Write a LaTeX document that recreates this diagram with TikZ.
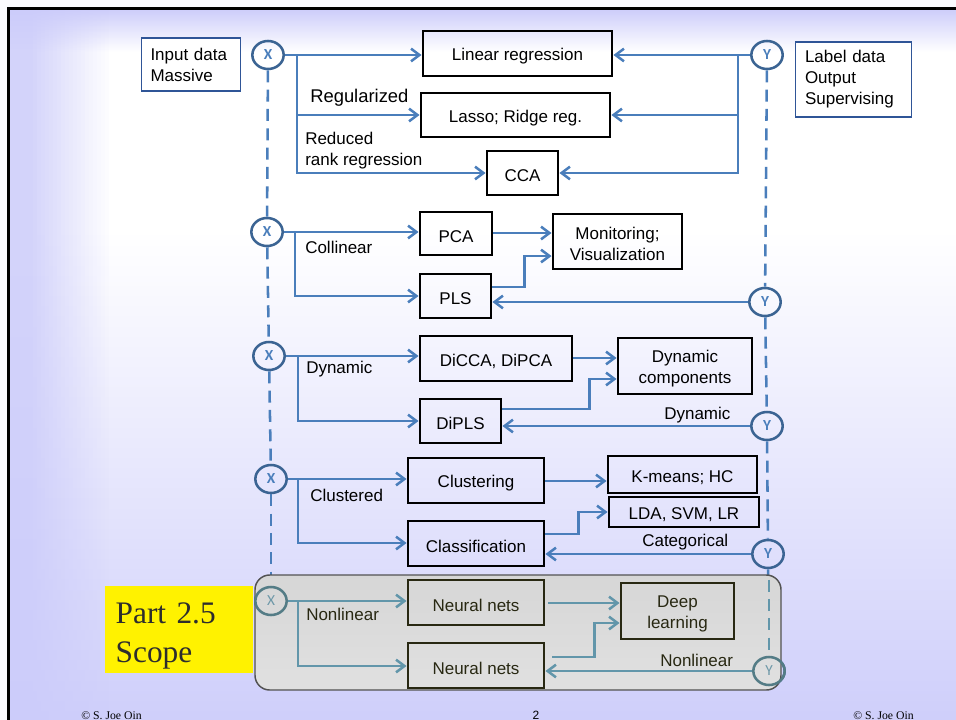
\documentclass[tikz,border=0pt]{standalone}
\usepackage{fontspec}
\setmainfont{Liberation Sans}
\newfontfamily\serifface{Liberation Serif}
\newfontfamily\markface{Carlito}
\usetikzlibrary{arrows.meta,shapes.geometric}

\definecolor{lav}{RGB}{204,204,250}
\definecolor{flowblue}{RGB}{74,126,187}
\definecolor{ringblue}{RGB}{59,100,147}
\definecolor{edgeblue}{RGB}{47,85,151}
\definecolor{nlteal}{RGB}{98,150,170}
\definecolor{nlring}{RGB}{84,124,134}
\definecolor{nlletter}{RGB}{110,152,168}
\definecolor{nlink}{RGB}{40,40,18}
\definecolor{darktext}{RGB}{45,45,45}

\begin{document}
\begin{tikzpicture}[x=0.75pt,y=-0.75pt,
  every node/.style={font=\fontsize{12.75}{15.75}\selectfont},
  sz/.style 2 args={minimum width=#1*0.75pt, minimum height=#2*0.75pt},
  method/.style={draw=black, line width=2.2pt, inner sep=0pt},
  nlmethod/.style={method, draw=nlink},
  mtext/.style={inner sep=0pt, align=center, yshift=-2pt},
  nlmtext/.style={mtext, text=nlink},
  infobox/.style={draw=edgeblue, line width=0.9pt, fill=white, inner xsep=7pt, inner ysep=0pt, align=left},
  ring/.style={ellipse, draw=ringblue, line width=1.9pt, inner sep=0pt,
    minimum width=23.5pt, minimum height=21pt, text=flowblue,
    font=\markface\bfseries\fontsize{11.5}{11.5}\selectfont},
  nlring/.style={ring, draw=nlring, text=nlletter, font=\markface\fontsize{11.5}{11.5}\selectfont},
  link/.style={draw=flowblue, line width=1.9pt},
  arr/.style={link, -{Straight Barb[length=6.3pt,width=9.5pt]}},
  nlarr/.style={arr, draw=nlteal},
  guide/.style={draw=flowblue, line width=1.9pt, dash pattern=on 9pt off 5.5pt},
  note/.style={inner sep=0pt, anchor=west},
  footer/.style={inner sep=0pt, anchor=base west, font=\serifface\fontsize{8.8}{10}\selectfont}
]
\useasboundingbox (0,0) rectangle (956,720);

% ---- slide background ----
\fill[white!93!lav] (0,0) rectangle (956,720);
\begin{scope}
  \clip (8.5,8.5) rectangle (956,720);
  \fill[white] (8.5,8.5) rectangle (956,720);
  \shade[top color=lav, bottom color=white] (8.5,8.5) rectangle (956,52);
  \shade[top color=white, bottom color=lav!95] (8.5,230) rectangle (956,720);
  % soft lavender band along the left edge
  \foreach \i in {0,...,24}
    \fill[lav, opacity={min(1,max(0,1-(\i-5)/20))*0.85}] ({8.5+4*\i},8.5) rectangle ({12.7+4*\i},720);
\end{scope}
\draw[line width=2pt] (8.5,740) |- (975,8.5);

% ---- data sources ----
\node[infobox, text width=60.75pt, minimum height=39.75pt] (indata) at (191,64.5) {Input data\\Massive};
\node[infobox, text width=72.75pt, minimum height=56.25pt] (outdata) at (853.5,79.5) {Label data\\Output\\Supervising};

% ---- X / Y taps ----
\node[ring] (x1) at (268,55) {X};
\node[ring] (x2) at (267,232) {X};
\node[ring] (x3) at (269,356) {X};
\node[ring] (x4) at (271,479) {X};
\node[ring] (y1) at (767,55) {Y};
\node[ring] (y2) at (765,302) {Y};
\node[ring] (y3) at (767,426) {Y};
\node[ring] (y4) at (768,554) {Y};

% ---- method boxes ----
\node[method, sz={189}{45}, label={[mtext]center:{Linear regression}}] (lin) at (517.5,53.5) {};
\node[method, sz={189}{44}, label={[mtext]center:{Lasso; Ridge reg.}}] (lasso) at (515.5,115) {};
\node[method, sz={71}{44}, label={[mtext]center:{CCA}}] (cca) at (522.5,173) {};
\node[method, sz={72}{43}, label={[mtext]center:{PCA}}] (pca) at (456,233.5) {};
\node[method, sz={71}{44}, label={[mtext]center:{PLS}}] (pls) at (455.5,296) {};
\node[method, sz={129}{55}, label={[mtext]center:{Monitoring;\\Visualization}}] (mon) at (617.5,241.5) {};
\node[method, sz={152}{45}, label={[mtext]center:{DiCCA, DiPCA}}] (dicca) at (496,358.5) {};
\node[method, sz={81}{44}, label={[mtext]center:{DiPLS}}] (dipls) at (460.5,421) {};
\node[method, sz={134}{56}, label={[mtext]center:{Dynamic\\components}}] (dyn) at (685,366) {};
\node[method, sz={136}{45}, label={[mtext]center:{Clustering}}] (clu) at (476,480.5) {};
\node[method, sz={136}{45}, label={[mtext]center:{Classification}}] (cls) at (476,543.5) {};
\node[method, sz={149}{37}, label={[mtext]center:{K-means; HC}}] (km) at (682.5,474.5) {};
\node[method, sz={150}{30}, label={[mtext]center:{LDA, SVM, LR}}] (lda) at (684,512) {};

% ---- branch points ----
\coordinate (xs1) at (297,55);
\coordinate (ys1) at (738,55);
\coordinate (xs2) at (295,232);
\coordinate (xs3) at (298,356);
\coordinate (xs4) at (298,479);

% ---- dashed guides ----
\draw[guide] (x1) -- (x2);
\draw[guide] (x2) -- (x3);
\draw[guide] (x3) -- (x4);
\draw[guide] (y1) -- (y2);
\draw[guide] (y2) -- (y3);
\draw[guide] (y3) -- (y4);

% ---- regression block ----
\draw[arr] (x1) -- (x1 -| lin.west);
\draw[arr] (xs1) |- (lasso.west);
\draw[arr] (xs1) |- (cca.west);
\draw[arr] (y1) -- (y1 -| lin.east);
\draw[arr] (ys1) |- (lasso.east);
\draw[arr] (ys1) |- (cca.east);
\node[note, font=\fontsize{13.8}{16}\selectfont] (lreg) at (310,97.5) {Regularized};
\node[note, align=left] (lrrr) at (305,150.5) {Reduced\\rank regression};

% ---- collinear block ----
\draw[arr] (x2) -- (x2 -| pca.west);
\draw[arr] (xs2) |- (pls.west);
\draw[arr] ([yshift=0.375pt]pca.east) -- ([yshift=0.375pt]pca.east -| mon.west);
\draw[arr] ([yshift=6.75pt]pls.east) -- ++(32,0) |- ([yshift=-10.9pt]mon.west);
\draw[arr] (y2) -- (y2 -| pls.east);
\node[note] (lcol) at (305,247.5) {Collinear};

% ---- dynamic block ----
\draw[arr] (x3) -- (x3 -| dicca.west);
\draw[arr] (xs3) |- (dipls.west);
\draw[arr] ([yshift=0.375pt]dicca.east) -- ([yshift=0.375pt]dicca.east -| dyn.west);
\draw[arr] ([yshift=9pt]dipls.east) -- ++(87,0) |- ([yshift=-9.75pt]dyn.west);
\draw[arr] (y3) -- (y3 -| dipls.east);
\node[note] (ldyn) at (306,369.5) {Dynamic};
\node[note] (rdyn) at (664,415) {Dynamic};

% ---- clustered block ----
\draw[arr] (x4) -- (x4 -| clu.west);
\draw[arr] (xs4) |- ([yshift=0.375pt]cls.west);
\draw[arr] ([yshift=-0.375pt]clu.east) -- ([yshift=-0.375pt]clu.east -| km.west);
\draw[arr] ([yshift=7.1pt]cls.east) -- ++(33,0) |- (lda.west);
\draw[arr] (y4) -- (y4 -| cls.east);
\node[note] (lclu) at (310,495.5) {Clustered};
\node[note] (rcat) at (642,542.5) {Categorical};

% ---- nonlinear block (shaded panel) ----
\node[ring] (x5) at (271,601) {};
\node[ring] (y5) at (769,671) {};
\draw[guide] (x4) -- (x5);
\draw[guide] (y4) -- (y5);
\node[draw=black!68, line width=1.1pt, rounded corners=11pt, sz={526}{115},
  top color=black!16, bottom color=black!12] (nlpanel) at (518,632.5) {};
\node[fill=yellow, sz={148}{87},
  label={[inner sep=0pt, text width=95pt, align=left, yshift=-4.5pt, text=darktext,
          font=\serifface\fontsize{23.5}{29.25}\selectfont]center:{Part 2.5\\Scope}}] (scope) at (179,629.5) {};

\node[nlring] at (x5) {X};
\node[nlring] at (y5) {Y};
\draw[guide, draw=nlteal] ([yshift=-4pt]y5 |- nlpanel.north) -- (y5);

\node[nlmethod, sz={136}{45}, label={[nlmtext]center:{Neural nets}}] (nn1) at (476,602.5) {};
\node[nlmethod, sz={136}{45}, label={[nlmtext]center:{Neural nets}}] (nn2) at (476,665.5) {};
\node[nlmethod, sz={113}{56}, label={[nlmtext]center:{Deep\\learning}}] (dl) at (677.5,611) {};
\coordinate (xs5) at (298,601);
\draw[nlarr] (x5) -- (x5 -| nn1.west);
\draw[nlarr] (xs5) |- ([yshift=-0.375pt]nn2.west);
\draw[nlarr] ([xshift=2.25pt,yshift=-0.375pt]nn1.east) -- ([yshift=-0.375pt]nn1.east -| dl.west);
\draw[nlarr] ([xshift=5.25pt,yshift=6.375pt]nn2.east) -- ++(42,0) |- ([yshift=-9pt]dl.west);
\draw[nlarr] (y5) -- (y5 -| nn2.east);
\node[note, text=nlink] (lnl) at (306,614) {Nonlinear};
\node[note, text=nlink] (rnl) at (660,660) {Nonlinear};

% ---- footer ----
\node[footer] (cpl) at (81,719) {© S. Joe Oin};
\node[footer] (cpr) at (853,719) {© S. Joe Oin};
\node[inner sep=0pt, anchor=base, font=\fontsize{9}{10}\selectfont] (pgno) at (536,719) {2};
\end{tikzpicture}
\end{document}
